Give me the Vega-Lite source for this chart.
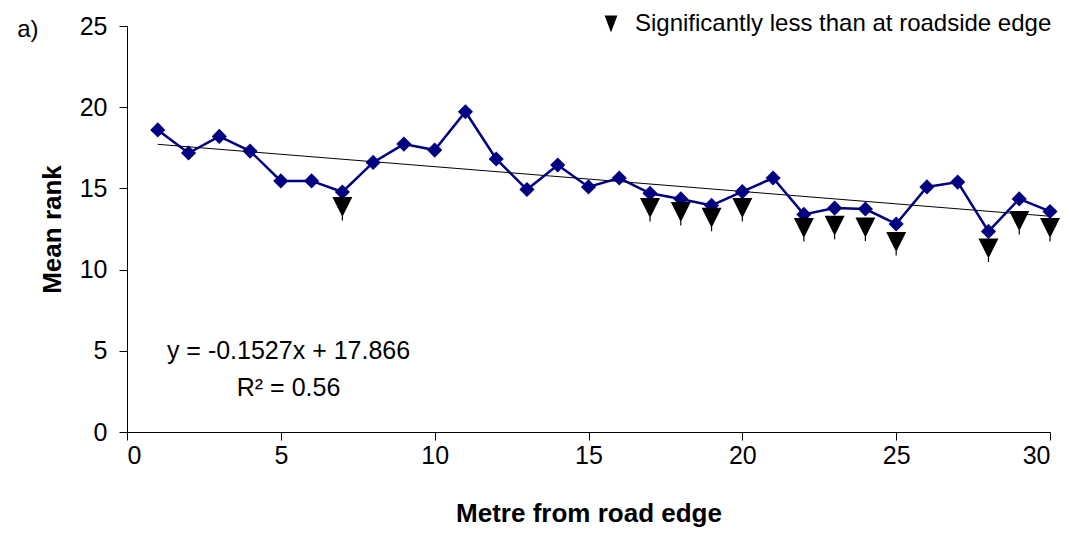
{
  "$schema": "https://vega.github.io/schema/vega-lite/v6.json",
  "autosize": "none",
  "width": 923,
  "height": 406,
  "padding": {"left": 127, "top": 26, "right": 20, "bottom": 101},
  "background": "white",
  "config": {
    "view": {"stroke": null},
    "font": "Liberation Sans",
    "axis": {
      "domainColor": "black", "tickColor": "black", "labelColor": "black", "titleColor": "black",
      "labelFont": "Liberation Sans", "titleFont": "Liberation Sans",
      "labelFontSize": 25, "titleFontSize": 26, "titleFontWeight": "bold",
      "grid": false, "tickSize": 8, "domainWidth": 1, "tickWidth": 1
    }
  },
  "datasets": {
    "ranks": [
      {"metre": 1, "rank": 18.6, "sig": null},
      {"metre": 2, "rank": 17.18, "sig": null},
      {"metre": 3, "rank": 18.2, "sig": null},
      {"metre": 4, "rank": 17.3, "sig": null},
      {"metre": 5, "rank": 15.46, "sig": null},
      {"metre": 6, "rank": 15.46, "sig": null},
      {"metre": 7, "rank": 14.78, "sig": 13.85},
      {"metre": 8, "rank": 16.6, "sig": null},
      {"metre": 9, "rank": 17.73, "sig": null},
      {"metre": 10, "rank": 17.36, "sig": null},
      {"metre": 11, "rank": 19.72, "sig": null},
      {"metre": 12, "rank": 16.81, "sig": null},
      {"metre": 13, "rank": 14.93, "sig": null},
      {"metre": 14, "rank": 16.44, "sig": null},
      {"metre": 15, "rank": 15.09, "sig": null},
      {"metre": 16, "rank": 15.64, "sig": null},
      {"metre": 17, "rank": 14.7, "sig": 13.8},
      {"metre": 18, "rank": 14.35, "sig": 13.55},
      {"metre": 19, "rank": 13.95, "sig": 13.2},
      {"metre": 20, "rank": 14.8, "sig": 13.8},
      {"metre": 21, "rank": 15.64, "sig": null},
      {"metre": 22, "rank": 13.4, "sig": 12.56},
      {"metre": 23, "rank": 13.79, "sig": 12.7},
      {"metre": 24, "rank": 13.73, "sig": 12.6},
      {"metre": 25, "rank": 12.81, "sig": 11.7},
      {"metre": 26, "rank": 15.09, "sig": null},
      {"metre": 27, "rank": 15.39, "sig": null},
      {"metre": 28, "rank": 12.35, "sig": 11.3},
      {"metre": 29, "rank": 14.35, "sig": 13.0},
      {"metre": 30, "rank": 13.58, "sig": 12.56}
    ],
    "trend": [
      {"metre": 1, "fit": 17.713},
      {"metre": 30, "fit": 13.285}
    ],
    "notes": [
      {"metre": 5.25, "rank": 4.99, "label": "y = -0.1527x + 17.866", "size": 25},
      {"metre": 5.25, "rank": 2.71, "label": "R² = 0.56", "size": 25},
      {"metre": -3.22, "rank": 24.75, "label": "a)", "size": 24}
    ]
  },
  "encoding": {
    "x": {
      "field": "metre", "type": "quantitative",
      "scale": {"domain": [0, 30], "nice": false, "zero": false},
      "axis": {"values": [0, 5, 10, 15, 20, 25, 30], "title": "Metre from road edge", "titlePadding": 32, "labelPadding": 3}
    }
  },
  "layer": [
    {
      "data": {"name": "trend"},
      "mark": {"type": "line", "color": "black", "strokeWidth": 1},
      "encoding": {
        "y": {"field": "fit", "type": "quantitative"}
      }
    },
    {
      "data": {"name": "ranks"},
      "mark": {"type": "line", "color": "#000080", "strokeWidth": 2.5,
        "point": {"shape": "diamond", "size": 230, "filled": true, "color": "#000080", "opacity": 1}},
      "encoding": {
        "y": {
          "field": "rank", "type": "quantitative",
          "scale": {"domain": [0, 25], "nice": false},
          "axis": {"values": [0, 5, 10, 15, 20, 25], "title": "Mean rank", "titlePadding": 14, "labelPadding": 12}
        }
      }
    },
    {
      "data": {"name": "ranks"},
      "transform": [
        {"filter": "datum.sig != null"},
        {"calculate": "'Significantly less than at roadside edge'", "as": "key"}
      ],
      "mark": {"type": "point", "shape": "M-1,-1L1,-1L0,1ZM-0.06,0.9L0.06,0.9L0.06,1.35L-0.06,1.35Z", "size": 400, "filled": true, "opacity": 1},
      "encoding": {
        "y": {"field": "sig", "type": "quantitative"},
        "color": {
          "field": "key", "type": "nominal",
          "scale": {"range": ["black"]},
          "legend": {
            "title": null, "orient": "none", "legendX": 472, "legendY": -14, "padding": 0,
            "labelFontSize": 24, "labelFont": "Liberation Sans", "labelColor": "black", "labelLimit": 0,
            "symbolType": "M-0.75,-1L0.75,-1L0,1Z", "symbolSize": 289, "symbolFillColor": "black",
            "symbolStrokeWidth": 0, "labelOffset": 12
          }
        }
      }
    },
    {
      "data": {"name": "notes"},
      "mark": {"type": "text", "font": "Liberation Sans", "color": "black", "clip": false, "align": "center", "baseline": "middle"},
      "encoding": {
        "y": {"field": "rank", "type": "quantitative"},
        "text": {"field": "label"},
        "size": {"field": "size", "type": "quantitative", "scale": null}
      }
    }
  ]
}
